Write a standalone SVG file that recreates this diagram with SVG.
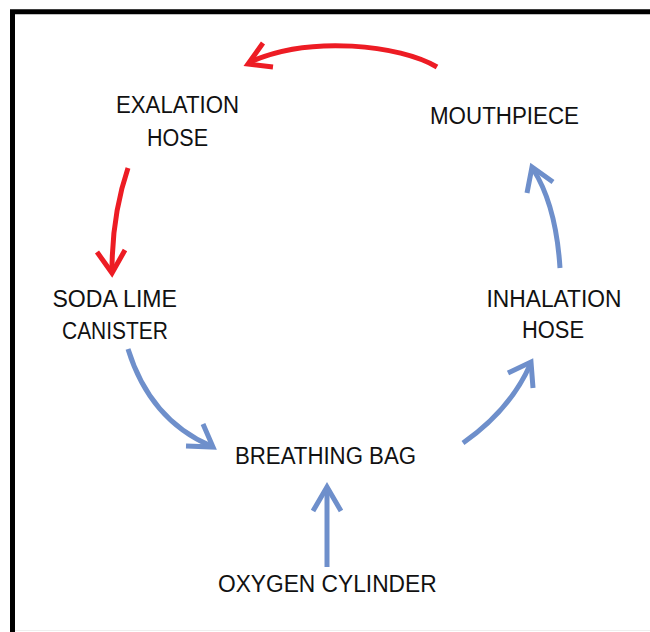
<svg xmlns="http://www.w3.org/2000/svg" width="650" height="632" viewBox="0 0 650 632">
  <style>
    .lbl { font-family: "Liberation Sans", Arial, sans-serif; font-size: 23px; fill: #111111; text-anchor: middle; }
    .red { fill: none; stroke: #ED1C24; stroke-width: 5; stroke-linecap: butt; stroke-linejoin: miter; }
    .blue { fill: none; stroke: #6E8FCB; stroke-width: 5; stroke-linecap: butt; stroke-linejoin: miter; }
    .frame { fill: none; stroke: #000000; stroke-width: 5; }
  </style>
  <rect x="0" y="0" width="650" height="632" fill="#ffffff"/>
  <path class="frame" d="M12.5,632 V11.8 H650"/>
  <line x1="15" y1="630.5" x2="650" y2="630.5" stroke="#eeeeee" stroke-width="1"/>

  <g id="connectors">
    <g id="mouthpiece-to-exalation">
      <path class="red" d="M437,67 C400,45 310,35 250,62"/>
      <polyline class="red" points="263,43 248,64 273,67"/>
    </g>
    <g id="exalation-to-soda">
      <path class="red" d="M128,168 Q112,215 112,271"/>
      <polyline class="red" points="97,252 112,273 125,250"/>
    </g>
    <g id="soda-to-bag">
      <path class="blue" d="M128,349 Q150,420 211,446"/>
      <polyline class="blue" points="186,446 213,447 203,424"/>
    </g>
    <g id="bag-to-inhalation">
      <path class="blue" d="M463,443 Q510,410 530,365"/>
      <polyline class="blue" points="508,373 531,362 533,388"/>
    </g>
    <g id="inhalation-to-mouthpiece">
      <path class="blue" d="M560,268 Q556,205 533,169"/>
      <polyline class="blue" points="527,193 532,167 553,182"/>
    </g>
    <g id="oxygen-to-bag">
      <path class="blue" d="M327,567 L327,488"/>
      <polyline class="blue" points="313,511 327,487 341,511"/>
    </g>
  </g>

  <g id="exalation-hose">
    <text class="lbl" x="177.5" y="113" textLength="123" lengthAdjust="spacingAndGlyphs">EXALATION</text>
    <text class="lbl" x="177.5" y="145.5" textLength="61" lengthAdjust="spacingAndGlyphs">HOSE</text>
  </g>
  <g id="mouthpiece">
    <text class="lbl" x="504.5" y="123.5" textLength="149" lengthAdjust="spacingAndGlyphs">MOUTHPIECE</text>
  </g>
  <g id="soda-lime-canister">
    <text class="lbl" x="114.7" y="307" textLength="124.5" lengthAdjust="spacingAndGlyphs">SODA LIME</text>
    <text class="lbl" x="115" y="339" textLength="106" lengthAdjust="spacingAndGlyphs">CANISTER</text>
  </g>
  <g id="inhalation-hose">
    <text class="lbl" x="554" y="306.5" textLength="135" lengthAdjust="spacingAndGlyphs">INHALATION</text>
    <text class="lbl" x="553" y="338" textLength="62" lengthAdjust="spacingAndGlyphs">HOSE</text>
  </g>
  <g id="breathing-bag">
    <text class="lbl" x="325.5" y="464" textLength="181" lengthAdjust="spacingAndGlyphs">BREATHING BAG</text>
  </g>
  <g id="oxygen-cylinder">
    <text class="lbl" x="327.3" y="592" textLength="218.7" lengthAdjust="spacingAndGlyphs">OXYGEN CYLINDER</text>
  </g>
</svg>
